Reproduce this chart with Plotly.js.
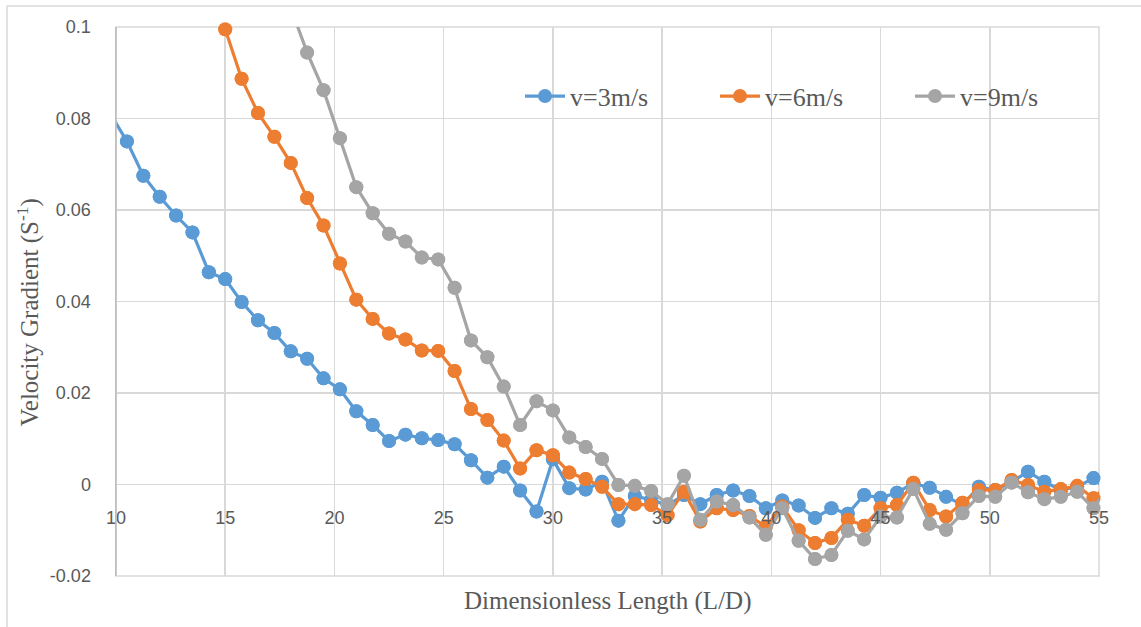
<!DOCTYPE html>
<html>
<head>
<meta charset="utf-8">
<script src="https://cdn.plot.ly/plotly-3.0.1.min.js"></script>
<style>html,body{margin:0;padding:0;background:#fff;}#chart{width:1141px;height:627px;}</style>
</head>
<body>
<div id="chart"></div>
<script>
// L/D positions of the measurement points
var xLD = [9.75, 10.5, 11.25, 12, 12.75, 13.5, 14.25, 15, 15.75, 16.5, 17.25, 18, 18.75, 19.5, 20.25, 21,
  21.75, 22.5, 23.25, 24, 24.75, 25.5, 26.25, 27, 27.75, 28.5, 29.25, 30, 30.75, 31.5, 32.25, 33,
  33.75, 34.5, 35.25, 36, 36.75, 37.5, 38.25, 39, 39.75, 40.5, 41.25, 42, 42.75, 43.5, 44.25, 45,
  45.75, 46.5, 47.25, 48, 48.75, 49.5, 50.25, 51, 51.75, 52.5, 53.25, 54, 54.75, 55.5];
var xV6 = [15, 15.75, 16.5, 17.25, 18, 18.75, 19.5, 20.25, 21,
  21.75, 22.5, 23.25, 24, 24.75, 25.5, 26.25, 27, 27.75, 28.5, 29.25, 30, 30.75, 31.5, 32.25, 33,
  33.75, 34.5, 35.25, 36, 36.75, 37.5, 38.25, 39, 39.75, 40.5, 41.25, 42, 42.75, 43.5, 44.25, 45,
  45.75, 46.5, 47.25, 48, 48.75, 49.5, 50.25, 51, 51.75, 52.5, 53.25, 54, 54.75, 55.5];
var xV9 = [18, 18.75, 19.5, 20.25, 21,
  21.75, 22.5, 23.25, 24, 24.75, 25.5, 26.25, 27, 27.75, 28.5, 29.25, 30, 30.75, 31.5, 32.25, 33,
  33.75, 34.5, 35.25, 36, 36.75, 37.5, 38.25, 39, 39.75, 40.5, 41.25, 42, 42.75, 43.5, 44.25, 45,
  45.75, 46.5, 47.25, 48, 48.75, 49.5, 50.25, 51, 51.75, 52.5, 53.25, 54, 54.75, 55.5];

var v3 = [0.0810, 0.0750, 0.0675, 0.0629, 0.0588, 0.0551, 0.0464, 0.0449, 0.0399, 0.0359, 0.0331, 0.0291, 0.0275, 0.0232, 0.0208, 0.0160,
  0.0130, 0.0095, 0.0109, 0.0101, 0.0097, 0.0088, 0.0053, 0.0015, 0.0039, -0.0013, -0.0059, 0.0055, -0.0008, -0.0011, 0.0006, -0.0079,
  -0.0025, -0.0034, -0.0045, -0.0023, -0.0043, -0.0023, -0.0013, -0.0025, -0.0052, -0.0035, -0.0046, -0.0073, -0.0052, -0.0064, -0.0023, -0.0029,
  -0.0018, 0.0003, -0.0007, -0.0027, -0.0045, -0.0005, -0.0012, 0.0006, 0.0028, 0.0006, -0.0012, -0.0005, 0.0014, -0.0019];
var v6 = [0.0995, 0.0887, 0.0812, 0.0760, 0.0703, 0.0626, 0.0566, 0.0483, 0.0404,
  0.0362, 0.0330, 0.0317, 0.0293, 0.0292, 0.0248, 0.0165, 0.0141, 0.0096, 0.0035, 0.0075, 0.0064, 0.0026, 0.0012, -0.0005, -0.0043,
  -0.0043, -0.0045, -0.0067, -0.0016, -0.0081, -0.0052, -0.0056, -0.0069, -0.0092, -0.0048, -0.0100, -0.0128, -0.0117, -0.0077, -0.0090, -0.0052,
  -0.0045, 0.0004, -0.0056, -0.0070, -0.0040, -0.0012, -0.0012, 0.0010, -0.0001, -0.0016, -0.0010, -0.0003, -0.0030, 0.0003];
var v9 = [0.1042, 0.0944, 0.0862, 0.0757, 0.0650,
  0.0593, 0.0548, 0.0531, 0.0496, 0.0492, 0.0430, 0.0315, 0.0278, 0.0214, 0.0130, 0.0182, 0.0162, 0.0103, 0.0082, 0.0056, -0.0001,
  -0.0003, -0.0014, -0.0043, 0.0019, -0.0077, -0.0037, -0.0045, -0.0072, -0.0110, -0.0052, -0.0123, -0.0163, -0.0154, -0.0101, -0.0120, -0.0070,
  -0.0072, -0.0010, -0.0086, -0.0099, -0.0063, -0.0025, -0.0027, 0.0004, -0.0017, -0.0032, -0.0027, -0.0016, -0.0052, 0.0002];

var seriesNames = ['v=3m/s', 'v=6m/s', 'v=9m/s'];
var xTicks = [10, 15, 20, 25, 30, 35, 40, 45, 50, 55];
var yTicks = [-0.02, 0, 0.02, 0.04, 0.06, 0.08, 0.1];
var yTickText = ['-0.02', '0', '0.02', '0.04', '0.06', '0.08', '0.1'];

var xs = [xLD, xV6, xV9];
var ys = [v3, v6, v9];
var colors = ['#5B9BD5', '#ED7D31', '#A5A5A5'];
var XMIN = 10, XMAX = 55, YMIN = -0.02, YMAX = 0.1;

var traces = [];
for (var s = 0; s < 3; s++) {
  traces.push({
    x: xs[s], y: ys[s], type: 'scatter', mode: 'lines+markers', name: seriesNames[s],
    line: {color: colors[s], width: 3.2},
    marker: {color: colors[s], size: 14},
    cliponaxis: true, hoverinfo: 'skip'
  });
  var mx = [], my = [];
  for (var i = 0; i < xs[s].length; i++) {
    if (xs[s][i] >= XMIN && xs[s][i] <= XMAX && ys[s][i] <= YMAX && ys[s][i] >= YMIN) {
      mx.push(xs[s][i]); my.push(ys[s][i]);
    }
  }
  traces.push({
    x: mx, y: my, type: 'scatter', mode: 'markers', showlegend: false,
    marker: {color: colors[s], size: 14}, cliponaxis: false, hoverinfo: 'skip'
  });
}

var grid = '#D9D9D9';
var layout = {
  width: 1141, height: 627,
  margin: {l: 116, r: 42, t: 27, b: 51, pad: 0},
  paper_bgcolor: '#ffffff', plot_bgcolor: '#ffffff',
  showlegend: true,
  legend: {
    orientation: 'h', x: 0.411, y: 0.874, xanchor: 'left', yanchor: 'middle',
    font: {family: 'Liberation Serif, Times New Roman, serif', size: 26, color: '#595959'},
    bgcolor: 'rgba(0,0,0,0)', entrywidth: 140, entrywidthmode: 'pixels', itemwidth: 40
  },
  xaxis: {
    range: [XMIN, XMAX], tickvals: xTicks, ticktext: xTicks.map(String),
    showgrid: true, gridcolor: grid, gridwidth: 1.5, zeroline: false, showline: false,
    ticks: '', anchor: 'free', position: (0 - YMIN) / (YMAX - YMIN),
    ticklabelstandoff: 20,
    tickfont: {family: 'Liberation Sans, Arial, sans-serif', size: 18, color: '#595959'}
  },
  yaxis: {
    range: [YMIN, YMAX], tickvals: yTicks, ticktext: yTickText,
    showgrid: true, gridcolor: grid, gridwidth: 1.5, zeroline: false,
    showline: true, linecolor: '#BFBFBF', linewidth: 1.5, ticks: '',
    ticklabelstandoff: 20,
    tickfont: {family: 'Liberation Sans, Arial, sans-serif', size: 18, color: '#595959'}
  },
  shapes: [
    {type: 'rect', xref: 'paper', yref: 'paper', x0: 0, x1: 1, y0: 0, y1: 1, line: {color: grid, width: 1.5}, layer: 'below'},
    {type: 'line', xref: 'paper', yref: 'paper', x0: 0, x1: 0, y0: 0, y1: 1, line: {color: '#BFBFBF', width: 1.5}},
    {type: 'line', xref: 'paper', yref: 'paper', x0: -0.1109, x1: 1.05, y0: 1.0383, y1: 1.0383, line: {color: grid, width: 1.5}},
    {type: 'line', xref: 'paper', yref: 'paper', x0: -0.1109, x1: -0.1109, y0: 1.0383, y1: -0.1, line: {color: grid, width: 1.5}}
  ],
  annotations: [
    {text: 'Dimensionless Length (L/D)', xref: 'paper', yref: 'paper', x: 0.5, y: -0.0455,
     xanchor: 'center', yanchor: 'middle', showarrow: false,
     font: {family: 'Liberation Serif, Times New Roman, serif', size: 25, color: '#595959'}},
    {text: 'Velocity Gradient (S<sup>-1</sup>)', xref: 'paper', yref: 'paper', x: -0.0895, y: 0.48,
     xanchor: 'center', yanchor: 'middle', showarrow: false, textangle: -90,
     font: {family: 'Liberation Serif, Times New Roman, serif', size: 25, color: '#595959'}}
  ]
};

Plotly.newPlot('chart', traces, layout, {displayModeBar: false, staticPlot: true});
</script>
</body>
</html>
